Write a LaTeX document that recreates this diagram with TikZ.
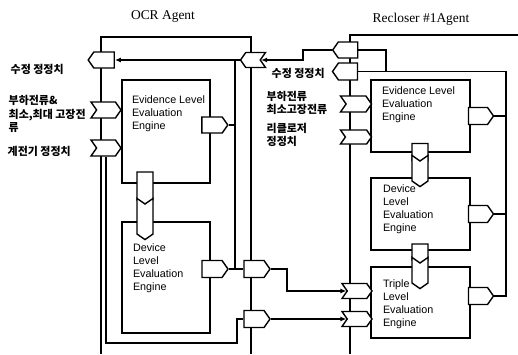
\documentclass[tikz,border=0pt]{standalone}
\usepackage{fontspec}
\setmainfont{Liberation Serif}
\setsansfont{Liberation Sans}
\newfontfamily\krfont{Noto Sans CJK KR}
\usetikzlibrary{shapes.symbols,arrows.meta,positioning}

\begin{document}
\begin{tikzpicture}[
x=1bp, y=-1bp,
line width=1.4bp,
engine/.style={draw, fill=white, minimum width=88bp, inner sep=0},
engtext/.style={font=\sffamily\fontsize{10.8}{13}\selectfont, align=left, inner sep=0},
krlab/.style={font=\krfont\bfseries\fontsize{11}{13.5}\selectfont, align=left, inner sep=0, anchor=west},
title/.style={font=\fontsize{13.5}{16}\selectfont, inner sep=0},
port/.style={draw, fill=white, signal, inner sep=0, signal pointer angle=110},
outR/.style={port, signal to=east, minimum width=26bp, minimum height=16bp},
outL/.style={port, signal to=west, minimum width=26bp, minimum height=16bp},
inR/.style={port, signal from=west, signal to=east, minimum width=30bp, minimum height=16bp},
inL/.style={port, signal from=east, signal to=west, minimum width=25bp, minimum height=15bp},
outD/.style={port, signal to=south, minimum width=16bp},
inD/.style={port, signal from=north, signal to=south, minimum width=16bp},
arrow/.style={-{Latex[length=6bp,width=5bp]}}
]
\useasboundingbox (0,0) rectangle (518,354);

% agent frames
\draw (101,354) -- (101,37) -- (251,37) -- (251,354);
\draw (350,354) -- (350,35) -- (518,35);

\node[title] (ocrT) at (163,16) {OCR Agent};
\node[title] (recT) at (421,19) {Recloser \#1Agent};

% OCR agent engines
\node[engine, minimum height=103bp] (ocrEv) at (166,131.5) {};
\node[engine, minimum height=111bp] (ocrDv) at (166,277.5) {};
\node[engtext, below right=16bp and 10bp of ocrEv.north west] (ocrEvT) {Evidence Level\\Evaluation\\Engine};
\node[engtext, below right=22bp and 11bp of ocrDv.north west] (ocrDvT) {Device\\Level\\Evaluation\\Engine};

% recloser agent engines
\node[engine, minimum width=99bp, minimum height=72bp] (recEv) at (420.5,116) {};
\node[engine, minimum width=99bp, minimum height=72bp] (recDv) at (420.5,214) {};
\node[engine, minimum width=99bp, minimum height=71bp] (recTr) at (420.5,302.5) {};
\node[engtext, below right=7bp and 11bp of recEv.north west] (recEvT) {Evidence Level\\Evaluation\\Engine};
\node[engtext, below right=7bp and 12bp of recDv.north west] (recDvT) {Device\\Level\\Evaluation\\Engine};
\node[engtext, below right=13bp and 12bp of recTr.north west] (recTrT) {Triple\\Level\\Evaluation\\Engine};

% OCR ports
\node[outL] (L1) at (104,60) {};
\node[inR] (L2) at (106,110) {};
\node[inR] (L3) at (106,148) {};
\node[inL] (R1) at (253,60) {};
\node[outR, minimum height=17bp] (R2) at (254,269) {};
\node[outR, minimum height=17bp] (R3) at (254,319) {};
\node[outR] (ocrEvO) at (212,125) {};
\node[outR, minimum height=17bp] (ocrDvO) at (212,269) {};
\node[outD, minimum height=28bp] (ocrEvD) at (145,186) {};
\node[inD, minimum height=30bp] (ocrDvI) at (145,219) {};

% recloser ports
\node[outL, minimum width=25bp] (P1) at (348,50) {};
\node[outL, minimum width=25bp, minimum height=17bp] (P2) at (348,71.5) {};
\node[inR, minimum width=31bp] (P3) at (356,104) {};
\node[inR, minimum width=31bp, minimum height=14bp] (P4) at (356,137) {};
\node[inR, minimum height=15bp] (P5) at (357,291) {};
\node[inR, minimum height=15bp] (P6) at (357,319) {};
\node[outR, minimum width=25bp, minimum height=17bp] (recEvO) at (478,116) {};
\node[outR, minimum width=25bp, minimum height=17bp] (recDvO) at (478,214) {};
\node[outR, minimum width=25bp, minimum height=17bp] (recTrO) at (478,296) {};
\node[outD, minimum height=17bp] (recEvD) at (420,152) {};
\node[inD, minimum height=20bp] (recDvI) at (420,171) {};
\node[outD, minimum height=16bp] (recDvD) at (420,252) {};
\node[inD, minimum height=20bp] (recTrI) at (420,273) {};

% labels
\node[krlab] (lbFix) at (10,69) {수정 정정치};
\node[krlab] (lbLoad) at (8,114) {부하전류\&\\최소,최대 고장전\\류};
\node[krlab] (lbRelay) at (7,151) {계전기 정정치};
\node[krlab] (lbFix2) at (271,73) {수정 정정치};
\node[krlab] (lbLoad2) at (266,103) {부하전류\\최소고장전류};
\node[krlab] (lbSet2) at (266,135) {리클로저\\정정치};

% OCR connections
\coordinate (jL) at (235,60);
\coordinate (jB) at (237,343);
\draw[arrow] (R1.west) -- (L1.east);
\draw (jL) -- (jL |- ocrDvO.east);
\draw (ocrEvO.east) -- (ocrEvO.east -| jL);
\draw (ocrDvO.east) -- (R2.west);
\draw (L3.south) |- (jB) |- (R3.west);

% recloser connections
\coordinate (jR) at (506,72);
\draw[arrow] (P1.west) -| (303,60) -- (R1.east);
\draw (P1.east) -| (386,71.5);
\draw (P2.east) -- (P2.east -| jR) -- (jR |- recTrO.east) -- (recTrO.east);
\draw (recEvO.east) -- (recEvO.east -| jR);
\draw (recDvO.east) -- (recDvO.east -| jR);
\draw[arrow] (R2.east) -- ++(16,0) |- (P5.west);
\draw[arrow] (R3.east) -- (P6.west);

\end{tikzpicture}
\end{document}
